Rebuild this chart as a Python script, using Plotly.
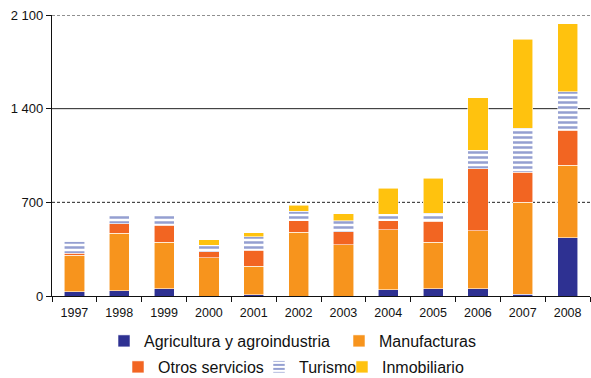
import plotly.graph_objects as go

years = ["1997", "1998", "1999", "2000", "2001", "2002",
         "2003", "2004", "2005", "2006", "2007", "2008"]
agricultura = [30, 40, 53, 0, 8, 0, 0, 45, 55, 55, 13, 434]
manufacturas = [276, 429, 348, 286, 213, 477, 384, 452, 346, 434, 687, 542]
otros_servicios = [13, 71, 128, 43, 120, 85, 95, 65, 159, 462, 223, 263]
turismo = [92, 75, 86, 50, 101, 70, 83, 48, 57, 140, 329, 289]
inmobiliario = [0, 0, 0, 42, 32, 48, 53, 195, 264, 389, 665, 507]

tick_vals = [0, 700, 1400, 2100]
tick_text = ["0", "700", "1 400", "2 100"]
grid_dash = {700: "3px,2px", 1400: "solid", 2100: "3px,2px"}

FONT = "Liberation Sans, Arial, Helvetica, sans-serif"
W, H = 591, 378

series = [
    ("Agricultura y agroindustria", agricultura, "#2E3192", None, "legend", 104, 341),
    ("Manufacturas", manufacturas, "#F7941D", None, "legend2", 339, 341),
    ("Otros servicios", otros_servicios, "#F26522", None, "legend3", 118, 367),
    ("Turismo", turismo, "#FFFFFF", "-", "legend4", 259, 367),
    ("Inmobiliario", inmobiliario, "#FFC20E", None, "legend5", 342, 367),
]

fig = go.Figure()
legend_layout = {}
for name, vals, color, shape, leg, lx, ly in series:
    marker = dict(color=color, line=dict(width=0.8, color="rgba(255,255,255,0.7)"))
    if shape:
        marker["pattern"] = dict(shape=shape, fgcolor="#2A3FA3", bgcolor="#FFFFFF",
                                 size=5, solidity=0.5)
    fig.add_trace(go.Bar(x=years, y=vals, name=name, marker=marker, legend=leg))
    legend_layout[leg] = dict(
        x=lx / W, y=1 - ly / H, xref="container", yref="container",
        xanchor="left", yanchor="middle", orientation="h",
        bgcolor="rgba(0,0,0,0)", borderwidth=0,
        font=dict(family=FONT, size=16, color="#111"),
    )

shapes = []
for v in tick_vals[1:]:
    shapes.append(dict(type="line", xref="paper", yref="y", x0=0, x1=1, y0=v, y1=v,
                       line=dict(color="#222", width=1, dash=grid_dash[v]),
                       layer="below"))

fig.update_layout(
    width=W, height=H,
    barmode="stack", bargap=0.55,
    margin=dict(l=52, r=1, t=15, b=82),
    paper_bgcolor="white", plot_bgcolor="white",
    font=dict(family=FONT, size=13, color="#111"),
    shapes=shapes,
    showlegend=True,
    **legend_layout,
)
fig.update_xaxes(
    type="category", tickson="boundaries", ticks="outside", ticklen=5,
    tickcolor="#111", showline=True, linecolor="#111", linewidth=1.3,
    showgrid=False, ticklabelstandoff=5,
    tickfont=dict(size=12.5, family=FONT, color="#111"),
)
fig.update_yaxes(
    range=[0, 2100], tickvals=tick_vals, ticktext=tick_text,
    ticks="outside", ticklen=5, tickcolor="#111", showline=True,
    linecolor="#111", linewidth=1.3, showgrid=False, zeroline=False,
    tickfont=dict(size=13, family=FONT, color="#111"),
)

fig.write_html(
    "out.html",
    config={"displayModeBar": False},
    post_script="document.body.style.margin='0';document.body.style.overflow='hidden';",
)
